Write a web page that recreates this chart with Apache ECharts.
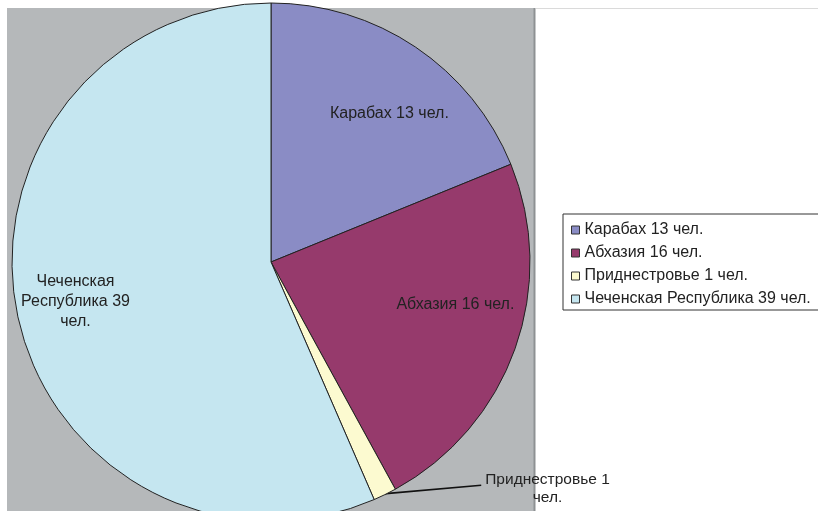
<!DOCTYPE html>
<html>
<head>
<meta charset="utf-8">
<script src="https://cdn.jsdelivr.net/npm/echarts@6/dist/echarts.min.js"></script>
<style>
html,body{margin:0;padding:0;background:#fff;}
#chart{width:818px;height:511px;}
</style>
</head>
<body>
<div id="chart"></div>
<script>
// ---- data ----
const categories = ['Карабах 13 чел.', 'Абхазия 16 чел.', 'Приднестровье 1 чел.', 'Чеченская Республика 39 чел.'];
const values = [13, 16, 1, 39];
const sliceLabels = ['Карабах 13 чел.', 'Абхазия 16 чел.', 'Приднестровье 1\nчел.', 'Чеченская\nРеспублика 39\nчел.'];
const colors = ['#8A8CC5', '#963A6C', '#FCFAD0', '#C5E6F0'];

// ---- style ----
const FONT = '"Liberation Sans", Arial, sans-serif';
const TXT = '#222';
const labelOffsets = [[11, 11], [3, -22], null, [-7, 0]];

const chart = echarts.init(document.getElementById('chart'), null, {renderer: 'canvas'});

const mainData = categories.map((c, i) => ({
  name: c,
  value: values[i],
  itemStyle: {color: colors[i]},
  label: i === 2 ? {
    show: true,
    position: 'outside',
    formatter: '{a|Приднестровье 1}\n{b|чел.}',
    rich: {
      a: {fontSize: 15.5, fontFamily: FONT, color: TXT, lineHeight: 18},
      b: {fontSize: 15.5, fontFamily: FONT, color: TXT, lineHeight: 18, align: 'center'}
    }
  } : {show: false},
  labelLine: i === 2 ? {show: true, length: 3, length2: 95, smooth: false,
    lineStyle: {color: '#111', width: 1.6}} : {show: false}
}));

const overlayData = categories.map((c, i) => ({
  name: c,
  value: values[i],
  itemStyle: {color: 'rgba(0,0,0,0)', borderWidth: 0},
  label: i === 2 ? {show: false} : {
    show: true,
    position: 'inside',
    formatter: sliceLabels[i],
    offset: labelOffsets[i],
    fontSize: 16,
    lineHeight: 20,
    fontFamily: FONT,
    color: TXT
  }
}));

chart.setOption({
  animation: false,
  backgroundColor: '#ffffff',
  graphic: [
    {type: 'rect', z: -10, silent: true,
     shape: {x: 7, y: 8, width: 527, height: 503},
     style: {fill: '#B5B8BA'}},
    {type: 'line', z: -9, silent: true,
     shape: {x1: 534.5, y1: 8, x2: 534.5, y2: 511},
     style: {stroke: '#8E9193', lineWidth: 2}},
    {type: 'line', z: -9, silent: true,
     shape: {x1: 536, y1: 8.5, x2: 818, y2: 8.5},
     style: {stroke: '#DADADA', lineWidth: 1}}
  ],
  legend: {
    orient: 'vertical',
    left: 563,
    top: 214,
    data: categories,
    icon: 'rect',
    itemWidth: 8,
    itemHeight: 8,
    itemGap: 7,
    itemTextGap: 5,
    padding: [8, 40, 3, 8],
    borderColor: '#333',
    borderWidth: 1,
    backgroundColor: '#fff',
    itemStyle: {borderColor: '#333', borderWidth: 1},
    textStyle: {fontSize: 16, fontFamily: FONT, color: TXT, lineHeight: 15},
    selectedMode: false
  },
  series: [
    {
      name: 'main',
      type: 'pie',
      center: [271, 262],
      radius: [0, 259],
      startAngle: 90,
      clockwise: true,
      avoidLabelOverlap: false,
      silent: true,
      itemStyle: {borderColor: '#222', borderWidth: 1},
      label: {distanceToLabelLine: 4},
      labelLayout: function (params) {
        if (params.dataIndex !== 2 || !params.labelLinePoints) return {};
        const pts = params.labelLinePoints;
        const end = pts[pts.length - 1];
        return {
          dy: -9,
          labelLinePoints: [pts[0], [pts[0][0] + 1, pts[0][1] - 1], [end[0], end[1] - 12]]
        };
      },
      data: mainData
    },
    {
      name: 'labels',
      type: 'pie',
      center: [271, 262],
      radius: [120, 259],
      startAngle: 90,
      clockwise: true,
      avoidLabelOverlap: false,
      silent: true,
      labelLine: {show: false},
      data: overlayData,
      z: 3
    }
  ]
});
</script>
</body>
</html>
